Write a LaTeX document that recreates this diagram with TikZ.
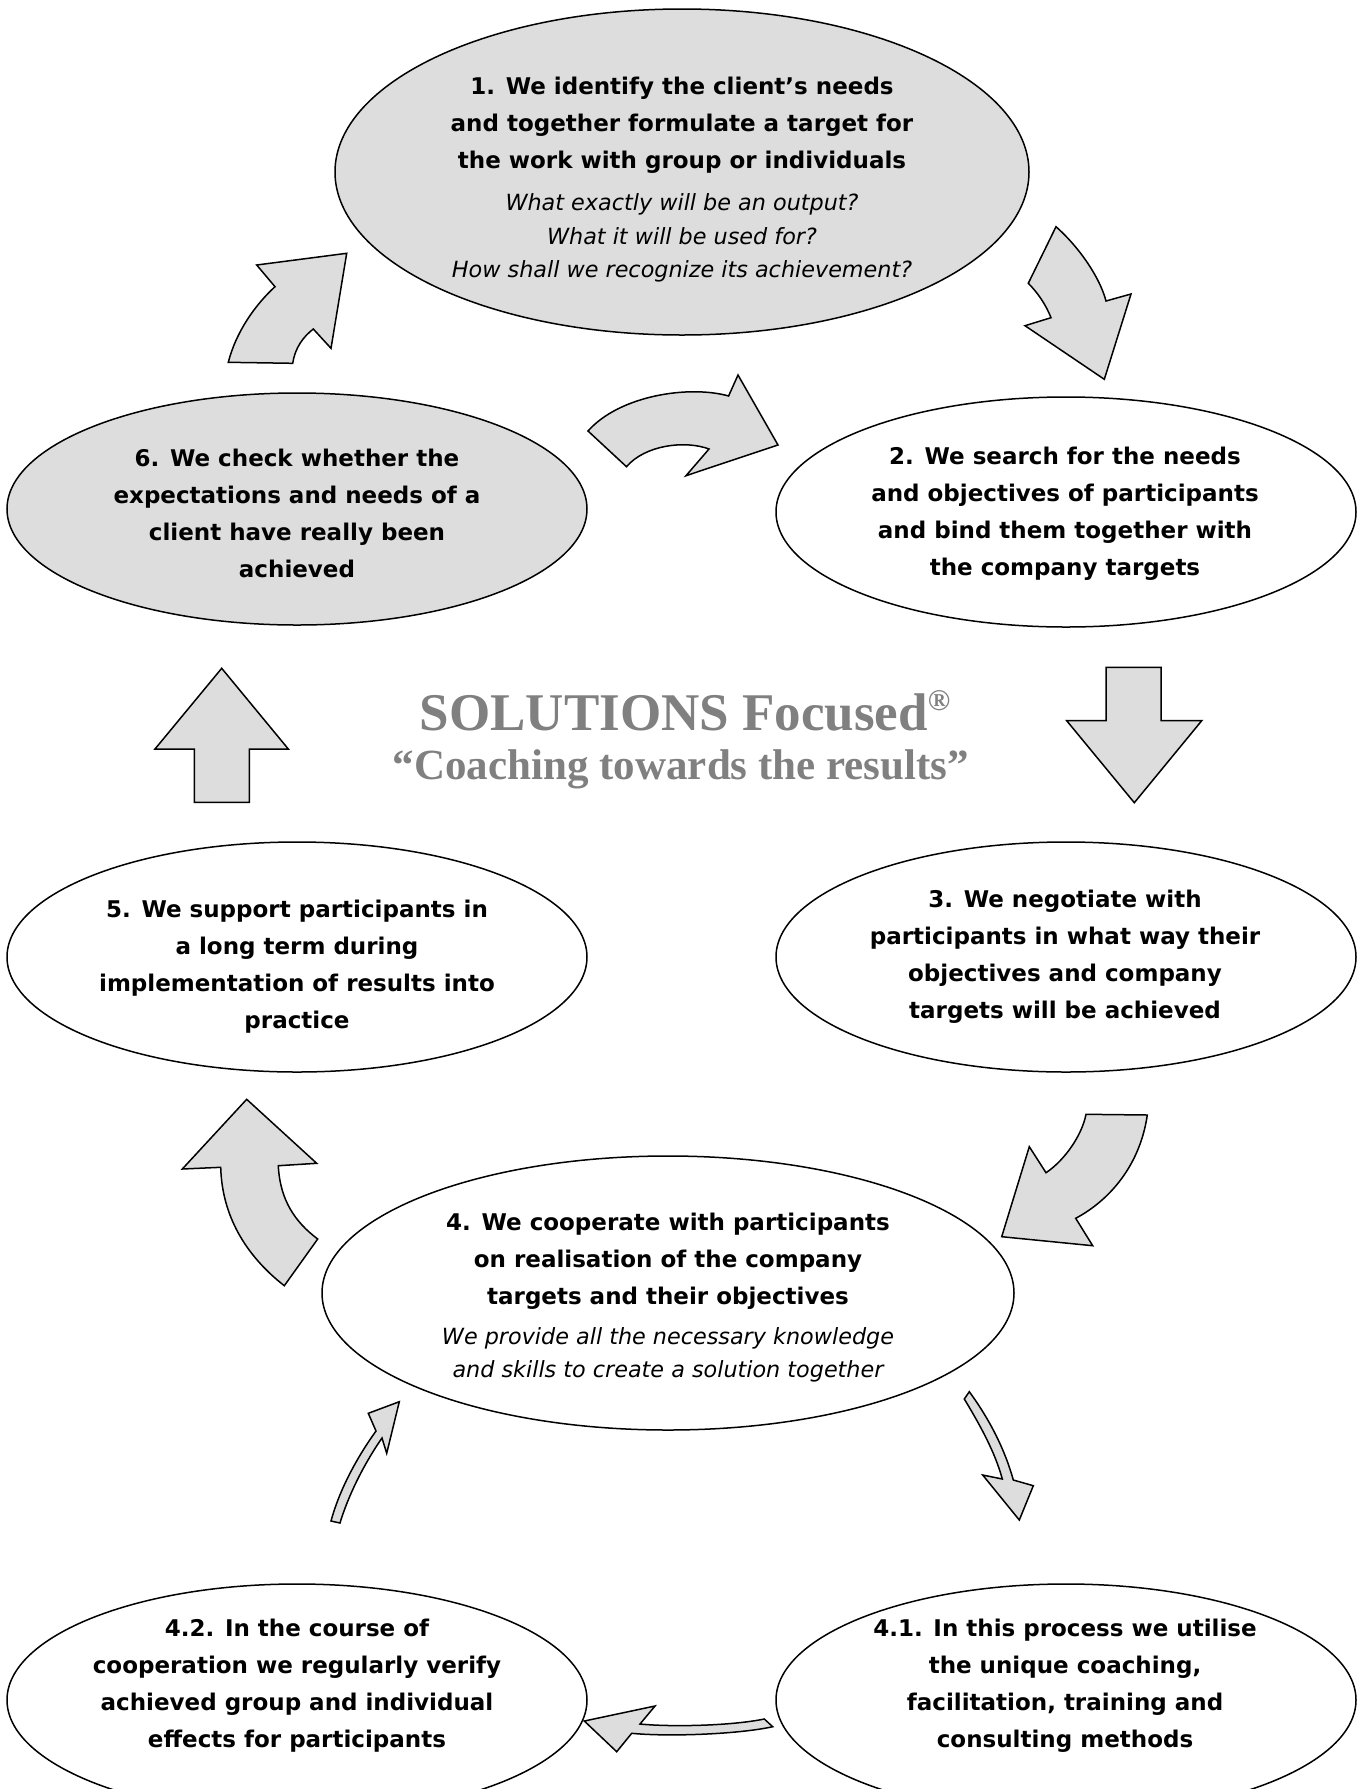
\documentclass[tikz,border=0pt]{standalone}
\usepackage{fontspec}
\setmainfont{DejaVu Sans}
\newfontfamily\titlefont{Liberation Serif}
\usetikzlibrary{shapes.geometric}
\definecolor{boxgray}{HTML}{DDDDDD}
\definecolor{titlegray}{HTML}{808080}
\tikzset{
  oval/.style={ellipse, draw=black, line width=1.5pt, inner sep=0pt, outer sep=0pt},
  grayoval/.style={oval, fill=boxgray},
  whiteoval/.style={oval, fill=white},
  bodytext/.style={align=center, font=\fontsize{23}{37}\selectfont\bfseries, inner sep=0pt},
  notetext/.style={align=center, font=\fontsize{22.3}{33.5}\selectfont\itshape, inner sep=0pt},
  blockarrow/.style={fill=boxgray, draw=black, line width=1.5pt, line join=miter},
  titletext/.style={text=titlegray, inner sep=0pt},
}
\begin{document}
\begin{tikzpicture}[x=1pt,y=-1pt]
\useasboundingbox (0,0) rectangle (1363,1789);
\fill[white] (0,0) rectangle (1363,1789);
\clip (0,0) rectangle (1363,1789);

% ellipses
\node[grayoval, minimum width=694, minimum height=326] (e1) at (682,172) {};
\node[grayoval, minimum width=580, minimum height=232] (e6) at (297,509) {};
\node[whiteoval, minimum width=580, minimum height=230] (e2) at (1066,512) {};
\node[whiteoval, minimum width=580, minimum height=230] (e5) at (297,957) {};
\node[whiteoval, minimum width=580, minimum height=230] (e3) at (1066,957) {};
\node[whiteoval, minimum width=692, minimum height=274] (e4) at (668,1293) {};
\node[whiteoval, minimum width=580, minimum height=232] (e42) at (297,1700) {};
\node[whiteoval, minimum width=580, minimum height=232] (e41) at (1066,1700) {};

% texts
\node[bodytext] (t1) at (682,125) {1. We identify the client’s needs\\and together formulate a target for\\the work with group or individuals};
\node[notetext] (n1) at (682,238) {What exactly will be an output?\\What it will be used for?\\How shall we recognize its achievement?};
\node[bodytext] (t6) at (297,513) {6. We check whether the\\expectations and needs of a\\client have really been\\achieved};
\node[bodytext] (t2) at (1065,514) {2. We search for the needs\\and objectives of participants\\and bind them together with\\the company targets};
\node[bodytext] (t5) at (297,967) {5. We support participants in\\a long term during\\implementation of results into\\practice};
\node[bodytext] (t3) at (1065,957) {3. We negotiate with\\participants in what way their\\objectives and company\\targets will be achieved};
\node[bodytext] (t4) at (668,1261) {4. We cooperate with participants\\on realisation of the company\\targets and their objectives};
\node[notetext] (n4) at (668,1355) {We provide all the necessary knowledge\\and skills to create a solution together};
\node[bodytext] (t42) at (297,1686) {4.2. In the course of\\cooperation we regularly verify\\achieved group and individual\\effects for participants};
\node[bodytext] (t41) at (1065,1686) {4.1. In this process we utilise\\the unique coaching,\\facilitation, training and\\consulting methods};

% title
\node[titletext, anchor=base, font=\titlefont\bfseries\fontsize{53}{53}\selectfont] (title) at (685,730)
  {SOLUTIONS Focused\raisebox{20pt}{\fontsize{30}{30}\selectfont ®}};
\node[titletext, anchor=base, font=\titlefont\bfseries\fontsize{43}{43}\selectfont] (subtitle) at (681,779)
  {“Coaching towards the results”};

% block arrows
% 6 -> 1
\draw[blockarrow] (228.3,362.3) -- (292.7,363.3)
  .. controls (295,348) and (303,337) .. (313.3,329) -- (331,348.3) -- (346.7,253.3)
  -- (256.7,265) -- (275,286.7) .. controls (255,305) and (236,332) .. cycle;
% 1 -> 2
\draw[blockarrow] (1056,226.7) -- (1028.3,283.3)
  .. controls (1038,293) and (1046,305) .. (1051,317.7) -- (1025,325.7) -- (1104.3,379.3)
  -- (1131,294) -- (1106,301) .. controls (1100,278) and (1080,248) .. cycle;
% 6 -> 2 (middle)
\draw[blockarrow] (588,431) -- (626.5,466.7)
  .. controls (645,445) and (685,440) .. (709,449) -- (686,475.7) -- (778,445)
  -- (738,375) -- (728.6,396) .. controls (690,385) and (620,395) .. cycle;
% 2 -> 3 (down)
\draw[blockarrow] (1106,667.3) -- (1161,667.3) -- (1161,720.7) -- (1201.7,720.7)
  -- (1134.3,802.7) -- (1066.7,720.7) -- (1106,720.7) -- cycle;
% 5 -> 6 (up)
\draw[blockarrow] (221.7,668.3) -- (288.3,749) -- (249.3,749) -- (249.3,802.3)
  -- (194.3,802.3) -- (194.3,749) -- (155,749) -- cycle;
% 3 -> 4
\draw[blockarrow] (1086,1114.3) -- (1147.3,1115)
  .. controls (1140,1165) and (1110,1200) .. (1075.7,1218.3) -- (1092.7,1245.7)
  -- (1001.7,1236.7) -- (1029.3,1146.7) -- (1046,1172.7)
  .. controls (1065,1160) and (1082,1135) .. cycle;
% 4 -> 5
\draw[blockarrow] (246.7,1099.3) -- (316.7,1163.3) -- (278.3,1165.7)
  .. controls (280,1200) and (295,1222) .. (317.7,1239) -- (284.3,1285.7)
  .. controls (245,1255) and (222,1215) .. (220.7,1167.3) -- (182.3,1169) -- cycle;
% 4 -> 4.1 (thin)
\draw[blockarrow] (964.3,1399) -- (969.3,1391.7)
  .. controls (990,1420) and (1005,1450) .. (1013.3,1480) -- (1033.3,1485.7)
  -- (1019.3,1520) -- (982.7,1475) -- (1002.3,1479)
  .. controls (995,1452) and (980,1425) .. cycle;
% 4.1 -> 4.2 (thin)
\draw[blockarrow] (764.3,1719) -- (772.7,1726.7)
  .. controls (740,1734) and (670,1737) .. (631.7,1733.3) -- (616.7,1751.7)
  -- (584.3,1721) -- (655,1706) -- (640,1724)
  .. controls (670,1727) and (730,1726) .. cycle;
% 4.2 -> 4 (thin)
\draw[blockarrow] (331,1521) -- (340,1523)
  .. controls (350,1490) and (368,1458) .. (382,1438) -- (386.7,1453.3)
  -- (399.3,1401.7) -- (368.3,1413.3) -- (376,1431)
  .. controls (358,1456) and (340,1488) .. cycle;
\end{tikzpicture}
\end{document}
